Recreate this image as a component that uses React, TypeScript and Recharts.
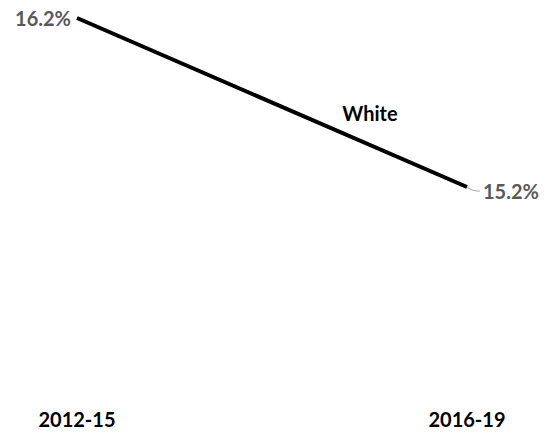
import React from "react";
import { LineChart, Line, XAxis, YAxis, LabelList } from "recharts";

const periods = ["2012-15", "2016-19"];
const whiteValues = [16.2, 15.2];
const seriesName = "White";

const data = periods.map((p, i) => ({ period: p, white: whiteValues[i] }));

const FONT = "Lato, 'Open Sans', sans-serif";

const renderLabel = (props: any) => {
  const { x, y, value, index } = props;
  const txt = `${Number(value).toFixed(1)}%`;
  if (index === 0) {
    return (
      <text x={x - 6} y={y + 1} dy="0.35em" textAnchor="end" fontFamily={FONT} fontWeight={700} fontSize={20} fill="#595959">
        {txt}
      </text>
    );
  }
  return (
    <g>
      <path d={`M${x},${y} Q${x + 5},${y + 4} ${x + 10},${y + 4} L${x + 13},${y + 4}`} stroke="#a6a6a6" strokeWidth={1} fill="none" />
      <text x={x + 16} y={y + 5} dy="0.35em" textAnchor="start" fontFamily={FONT} fontWeight={700} fontSize={20} fill="#595959">
        {txt}
      </text>
      <text x={x - 97} y={y - 73} dy="0.35em" textAnchor="middle" fontFamily={FONT} fontWeight={700} fontSize={20} fill="#000">
        {seriesName}
      </text>
    </g>
  );
};

export default function App() {
  return (
    <div style={{ position: "absolute", left: 0, top: 0, width: 550, height: 433 }}>
      <LineChart width={550} height={433} data={data} margin={{ top: 18, right: 83, bottom: 0, left: 77 }}>
        <XAxis
          dataKey="period"
          axisLine={false}
          tickLine={false}
          tickSize={0}
          tickMargin={23}
          height={43.2}
          interval={0}
          tick={{ fontFamily: FONT, fontWeight: 700, fontSize: 20, fill: "#000" }}
        />
        <YAxis hide domain={[14, 16.2]} />
        <Line dataKey="white" stroke="#000" strokeWidth={4} dot={false} isAnimationActive={false}>
          <LabelList dataKey="white" content={renderLabel} />
        </Line>
      </LineChart>
    </div>
  );
}
